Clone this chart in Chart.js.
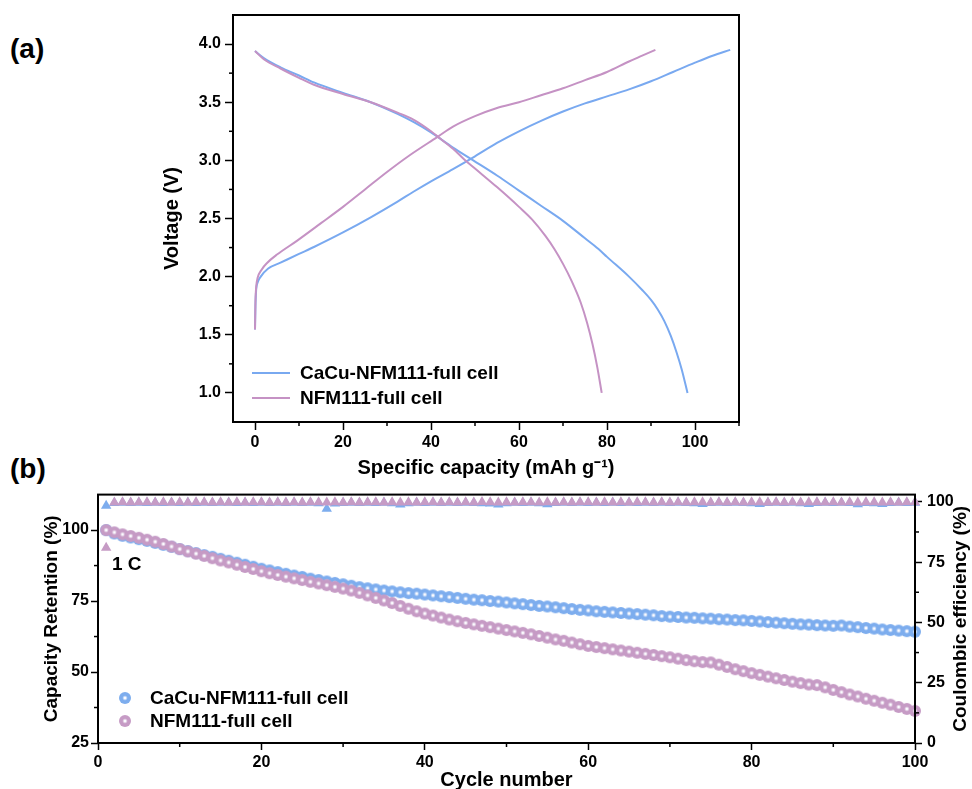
<!DOCTYPE html>
<html>
<head>
<meta charset="utf-8">
<script src="https://cdn.jsdelivr.net/npm/chart.js@4.4.0/dist/chart.umd.min.js"></script>
<style>
    body { margin: 0; background: #fff; width: 972px; height: 789px; position: relative; overflow: hidden; font-family: "Liberation Sans", Arial, sans-serif; }
    canvas { position: absolute; left: 0; }
    #chart-a { top: 0; }
    #chart-b { top: 480px; }
    .panel-tag { position: absolute; left: 10px; font-weight: bold; font-size: 28px; line-height: 28px; }
</style>
</head>
<body>
<div class="panel-tag" style="top:35px">(a)</div>
<div class="panel-tag" style="top:455px">(b)</div>
<canvas id="chart-a" width="972" height="480" style="width:972px;height:480px"></canvas>
<canvas id="chart-b" width="972" height="309" style="width:972px;height:309px"></canvas>

<script>
// ===================================
// DATA - panel (a), charge / discharge curves
// ===================================
const seriesNames = ['CaCu-NFM111-full cell', 'NFM111-full cell'];

const cacuChargeCap = [0, 0.1, 0.25, 0.6, 1.3, 3, 5.8, 10, 13.4, 20, 26.3, 32.4, 36, 40, 45, 50, 55, 60, 65, 70, 75, 80, 85, 90, 95, 100, 104, 108];
const cacuChargeV   = [1.545, 1.75, 1.88, 1.95, 2.0, 2.07, 2.12, 2.195, 2.255, 2.38, 2.51, 2.645, 2.73, 2.82, 2.925, 3.035, 3.15, 3.25, 3.34, 3.42, 3.49, 3.55, 3.61, 3.68, 3.76, 3.84, 3.90, 3.95];

const cacuDischargeCap = [0, 2, 5.8, 10, 13.4, 20, 26.3, 32.4, 36, 40, 45, 49.6, 55, 60, 65, 70, 75, 78, 80, 85, 88, 90, 91.5, 93, 94.5, 95.8, 97, 98.3];
const cacuDischargeV   = [3.94, 3.88, 3.80, 3.73, 3.67, 3.58, 3.50, 3.40, 3.33, 3.24, 3.11, 3.0, 2.87, 2.74, 2.61, 2.48, 2.33, 2.24, 2.17, 2.00, 1.885, 1.80, 1.72, 1.62, 1.49, 1.35, 1.20, 1.0];

const nfmChargeCap = [0, 0.1, 0.3, 0.6, 1.5, 2.8, 5, 9.6, 15, 20, 25, 30, 35, 41.4, 45, 50, 55, 60, 65, 70, 75, 80, 85, 88, 91];
const nfmChargeV   = [1.545, 1.78, 1.92, 1.99, 2.06, 2.12, 2.19, 2.31, 2.46, 2.60, 2.75, 2.90, 3.04, 3.20, 3.29, 3.38, 3.45, 3.50, 3.56, 3.62, 3.69, 3.76, 3.85, 3.90, 3.95];

const nfmDischargeCap = [0, 2, 5.8, 10, 13.4, 20, 26.3, 32.4, 36, 40, 42, 45, 47.5, 50, 55, 60, 63, 66, 68, 70, 72, 74, 75.5, 76.7, 77.8, 78.8];
const nfmDischargeV   = [3.94, 3.87, 3.79, 3.71, 3.65, 3.57, 3.50, 3.41, 3.35, 3.25, 3.19, 3.10, 3.01, 2.93, 2.77, 2.60, 2.49, 2.35, 2.24, 2.11, 1.96, 1.78, 1.60, 1.42, 1.22, 1.0];

const capacityTicks = [0, 20, 40, 60, 80, 100];
const capacityMinor = [10, 30, 50, 70, 90, 110];
const voltageTicks = [1.0, 1.5, 2.0, 2.5, 3.0, 3.5, 4.0];
const voltageMinor = [1.25, 1.75, 2.25, 2.75, 3.25, 3.75];

// ===================================
// DATA - panel (b), cycling
// ===================================
const cycles = [1, 2, 3, 4, 5, 6, 7, 8, 9, 10, 11, 12, 13, 14, 15, 16, 17, 18, 19, 20,
    21, 22, 23, 24, 25, 26, 27, 28, 29, 30, 31, 32, 33, 34, 35, 36, 37, 38, 39, 40,
    41, 42, 43, 44, 45, 46, 47, 48, 49, 50, 51, 52, 53, 54, 55, 56, 57, 58, 59, 60,
    61, 62, 63, 64, 65, 66, 67, 68, 69, 70, 71, 72, 73, 74, 75, 76, 77, 78, 79, 80,
    81, 82, 83, 84, 85, 86, 87, 88, 89, 90, 91, 92, 93, 94, 95, 96, 97, 98, 99, 100];

const cacuRetention = [100.0, 98.8, 98.0, 97.4, 96.8, 96.2, 95.5, 94.8, 94.1, 93.3,
    92.6, 91.9, 91.2, 90.6, 89.9, 89.2, 88.5, 87.8, 87.1, 86.4,
    85.8, 85.2, 84.6, 84.0, 83.5, 82.9, 82.4, 81.9, 81.4, 80.9,
    80.4, 79.9, 79.5, 79.1, 78.7, 78.4, 78.1, 77.8, 77.6, 77.3,
    77.0, 76.7, 76.4, 76.1, 75.8, 75.5, 75.3, 75.0, 74.8, 74.5,
    74.2, 73.9, 73.6, 73.3, 73.1, 72.8, 72.5, 72.2, 71.9, 71.7,
    71.4, 71.2, 71.0, 70.8, 70.6, 70.4, 70.2, 70.0, 69.7, 69.5,
    69.4, 69.2, 69.1, 68.9, 68.8, 68.6, 68.5, 68.3, 68.2, 68.0,
    67.8, 67.6, 67.4, 67.2, 67.0, 66.8, 66.7, 66.5, 66.4, 66.3,
    66.4, 66.0, 65.8, 65.5, 65.3, 65.0, 64.8, 64.6, 64.4, 64.2];

const nfmRetention = [100.0, 99.2, 98.5, 97.9, 97.3, 96.6, 95.9, 95.1, 94.2, 93.3,
    92.5, 91.7, 90.9, 90.1, 89.3, 88.6, 87.8, 87.0, 86.3, 85.5,
    84.8, 84.2, 83.6, 83.0, 82.4, 81.8, 81.2, 80.6, 80.0, 79.4,
    78.7, 77.9, 77.0, 76.1, 75.2, 74.3, 73.3, 72.3, 71.4, 70.6,
    69.9, 69.2, 68.5, 67.9, 67.3, 66.8, 66.3, 65.8, 65.3, 64.8,
    64.3, 63.8, 63.3, 62.7, 62.1, 61.5, 61.0, 60.4, 59.8, 59.2,
    58.8, 58.4, 58.0, 57.6, 57.2, 56.8, 56.4, 56.0, 55.6, 55.2,
    54.7, 54.2, 53.8, 53.5, 53.4, 52.6, 51.8, 51.0, 50.3, 49.6,
    49.0, 48.4, 47.8, 47.2, 46.6, 46.1, 45.6, 45.4, 44.6, 43.7,
    42.9, 42.1, 41.4, 40.6, 39.9, 39.2, 38.5, 37.7, 37.0, 36.3];

const cacuEfficiency = [98.4, 99.5, 99.6, 99.5, 99.6, 99.5, 99.6, 99.5, 99.6, 99.5,
    99.6, 99.5, 99.6, 99.5, 99.6, 99.6, 99.5, 99.6, 99.5, 99.6,
    99.5, 99.6, 99.5, 99.6, 99.5, 99.6, 99.4, 97.1, 99.3, 99.5,
    99.6, 99.5, 99.6, 99.5, 99.6, 99.4, 98.9, 99.4, 99.6, 99.5,
    99.6, 99.5, 99.6, 99.5, 99.6, 99.5, 99.4, 99.3, 98.9, 99.4,
    99.6, 99.5, 99.6, 99.4, 99.0, 99.5, 99.6, 99.5, 99.6, 99.5,
    99.6, 99.5, 99.6, 99.5, 99.6, 99.5, 99.6, 99.5, 99.6, 99.5,
    99.6, 99.5, 99.4, 99.1, 99.5, 99.6, 99.5, 99.6, 99.5, 99.4,
    99.1, 99.5, 99.6, 99.5, 99.6, 99.4, 99.1, 99.5, 99.6, 99.5,
    99.6, 99.5, 99.0, 99.5, 99.4, 99.1, 99.5, 99.6, 99.5, 99.6];

const nfmEfficiency = [81.0, 99.7, 99.8, 99.7, 99.8, 99.8, 99.7, 99.8, 99.7, 99.8,
    99.7, 99.8, 99.8, 99.7, 99.8, 99.7, 99.8, 99.7, 99.8, 99.8,
    99.7, 99.8, 99.7, 99.8, 99.7, 99.8, 99.8, 99.7, 99.8, 99.7,
    99.8, 99.7, 99.8, 99.8, 99.7, 99.8, 99.7, 99.8, 99.7, 99.8,
    99.8, 99.7, 99.8, 99.7, 99.8, 99.7, 99.9, 99.8, 99.7, 99.8,
    99.7, 99.8, 99.8, 99.7, 99.8, 99.7, 99.8, 99.7, 99.8, 99.8,
    99.7, 99.8, 99.7, 99.8, 99.7, 99.8, 99.8, 99.7, 99.8, 99.7,
    99.8, 99.7, 99.8, 99.8, 99.7, 99.8, 99.7, 99.8, 99.7, 99.8,
    99.8, 99.7, 99.8, 99.7, 99.8, 99.7, 99.8, 99.8, 99.7, 99.8,
    99.7, 99.8, 99.7, 99.8, 99.8, 99.7, 99.8, 99.7, 99.8, 99.8];

const cycleTicks = [0, 20, 40, 60, 80, 100];
const cycleMinor = [10, 30, 50, 70, 90];
const retentionTicks = [25, 50, 75, 100];
const retentionMinor = [37.5, 62.5, 87.5];
const efficiencyTicks = [0, 25, 50, 75, 100];
const efficiencyMinor = [12.5, 37.5, 62.5, 87.5];

const rateLabel = '1 C';
const rateLabelAt = [1.7, 87.7];   // cycle, retention
const efficiencyTitle = 'Coulombic efficiency (%)';

// ===================================
// STYLE
// ===================================
const FONT = '"Liberation Sans", Arial, sans-serif';
const BLUE_LINE = '#79a9f0';
const PINK_LINE = '#c592c4';
const BLUE_MARK = '#7dadee';
const PINK_MARK = '#c69bc5';

Chart.defaults.font.family = FONT;
Chart.defaults.font.weight = 'bold';
Chart.defaults.color = '#000';

const zip = (xs, ys) => xs.map((x, i) => ({ x: x, y: ys[i] }));

/**
 * Small shaded ball used as point style (Origin "sphere" symbol)
 */
function makeBall(color, r) {
    const c = document.createElement('canvas');
    c.width = c.height = r * 2 + 2;
    const g = c.getContext('2d');
    const m = r + 1;
    const grad = g.createRadialGradient(m, m, 0, m, m, r);
    grad.addColorStop(0, '#ffffff');
    grad.addColorStop(0.12, '#fbfbff');
    grad.addColorStop(0.45, color);
    grad.addColorStop(1, color);
    g.fillStyle = grad;
    g.beginPath();
    g.arc(m, m, r, 0, Math.PI * 2);
    g.fill();
    return c;
}

const blueBall = makeBall(BLUE_MARK, 6);
const pinkBall = makeBall(PINK_MARK, 6);

// ===================================
// PLUGINS
// ===================================

// frame round the plot + short minor ticks
function framePlugin(minor) {
    return {
        id: 'frame',
        afterDraw(chart) {
            const { ctx, chartArea: a } = chart;
            ctx.save();
            ctx.strokeStyle = '#000';
            ctx.lineWidth = 1.5;
            Object.keys(minor).forEach(id => {
                const s = chart.scales[id];
                minor[id].forEach(v => {
                    const p = s.getPixelForValue(v);
                    ctx.beginPath();
                    if (s.isHorizontal()) {
                        ctx.moveTo(p, a.bottom); ctx.lineTo(p, a.bottom + 4);
                    } else if (s.position === 'left') {
                        ctx.moveTo(a.left, p); ctx.lineTo(a.left - 4, p);
                    } else {
                        ctx.moveTo(a.right, p); ctx.lineTo(a.right + 4, p);
                    }
                    ctx.stroke();
                });
            });
            ctx.lineWidth = 2;
            ctx.strokeRect(a.left, a.top, a.right - a.left, a.bottom - a.top);
            ctx.restore();
        }
    };
}

// legend drawn inside the plot, offsets relative to chart area bottom-left
function legendPlugin(entries) {
    return {
        id: 'insideLegend',
        afterDraw(chart) {
            const { ctx, chartArea: a } = chart;
            ctx.save();
            ctx.font = 'bold 19px ' + FONT;
            ctx.textBaseline = 'middle';
            ctx.fillStyle = '#000';
            entries.forEach(e => {
                const ds = chart.data.datasets[e.dataset];
                const x = a.left + e.dx;
                const y = a.bottom + e.dy;
                if (ds.showLine) {
                    ctx.strokeStyle = ds.borderColor;
                    ctx.lineWidth = 2;
                    ctx.beginPath();
                    ctx.moveTo(x, y);
                    ctx.lineTo(x + 38, y);
                    ctx.stroke();
                } else {
                    const img = ds.pointStyle;
                    ctx.drawImage(img, x - img.width / 2, y - img.height / 2);
                }
                ctx.fillText(ds.label, a.left + e.tx, y + 1);
            });
            ctx.restore();
        }
    };
}

// rate note and right-hand title (reads bottom to top like the left one)
const cycleNotes = {
    id: 'cycleNotes',
    afterDraw(chart) {
        const { ctx, chartArea: a } = chart;
        const xs = chart.scales.x, ys = chart.scales.y, y2 = chart.scales.y2;
        ctx.save();
        ctx.fillStyle = '#000';
        ctx.font = 'bold 19px ' + FONT;
        ctx.textBaseline = 'middle';
        ctx.fillText(rateLabel, xs.getPixelForValue(rateLabelAt[0]), ys.getPixelForValue(rateLabelAt[1]));
        ctx.translate(y2.right - 11, (a.top + a.bottom) / 2);
        ctx.rotate(-Math.PI / 2);
        ctx.textAlign = 'center';
        ctx.fillText(efficiencyTitle, 0, 0);
        ctx.restore();
    }
};

function axisBase(ticks, tickLen, pad) {
    return {
        type: 'linear',
        border: { display: false },
        grid: { display: true, drawOnChartArea: false, drawTicks: true, tickLength: tickLen, tickWidth: 1.5, tickColor: '#000' },
        ticks: { font: { size: 16, weight: 'bold' }, color: '#000', padding: pad, autoSkip: false, maxRotation: 0 },
        afterBuildTicks: s => { s.ticks = ticks.map(v => ({ value: v })); }
    };
}

// ===================================
// PANEL (a)
// ===================================
const xA = axisBase(capacityTicks, 8, 3);
xA.min = -5; xA.max = 110;
xA.afterFit = s => { s.height = 58; };
xA.title = { display: true, text: 'Specific capacity (mAh g⁻¹)', font: { size: 20, weight: 'bold' }, color: '#000', padding: { top: 0, bottom: 0 } };

const yA = axisBase(voltageTicks, 8, 4);
yA.min = 0.75; yA.max = 4.25;
yA.ticks.callback = v => v.toFixed(1);
yA.afterFit = s => { s.width = 77; };
yA.title = { display: true, text: 'Voltage (V)', font: { size: 20, weight: 'bold' }, color: '#000', padding: { top: 4, bottom: 0 } };

const curve = (label, xs, ys, color, order) => ({
    label: label,
    data: zip(xs, ys),
    showLine: true,
    borderColor: color,
    backgroundColor: color,
    borderWidth: 2,
    pointRadius: 0,
    cubicInterpolationMode: 'monotone',
    order: order
});

new Chart(document.getElementById('chart-a'), {
    type: 'scatter',
    data: {
        datasets: [
            curve(seriesNames[0], cacuChargeCap, cacuChargeV, BLUE_LINE, 3),
            curve(seriesNames[1], nfmChargeCap, nfmChargeV, PINK_LINE, 1),
            curve(seriesNames[0], cacuDischargeCap, cacuDischargeV, BLUE_LINE, 4),
            curve(seriesNames[1], nfmDischargeCap, nfmDischargeV, PINK_LINE, 2)
        ]
    },
    options: {
        responsive: false,
        animation: false,
        events: [],
        layout: { padding: { left: 156, right: 233, top: 15, bottom: 0 } },
        plugins: { legend: { display: false }, tooltip: { enabled: false } },
        scales: { x: xA, y: yA }
    },
    plugins: [
        framePlugin({ x: capacityMinor, y: voltageMinor }),
        legendPlugin([
            { dataset: 0, dx: 19, dy: -49, tx: 67 },
            { dataset: 1, dx: 19, dy: -24, tx: 67 }
        ])
    ]
});

// ===================================
// PANEL (b)
// ===================================
const xB = axisBase(cycleTicks, 7, 3);
xB.min = 0; xB.max = 100;
xB.afterFit = s => { s.height = 46; };
xB.title = { display: true, text: 'Cycle number', font: { size: 20, weight: 'bold' }, color: '#000', padding: { top: 0, bottom: -3 } };

const yB = axisBase(retentionTicks, 7, 2);
yB.min = 25; yB.max = 112.5;
yB.afterFit = s => { s.width = 62; };
yB.title = { display: true, text: 'Capacity Retention (%)', font: { size: 19, weight: 'bold' }, color: '#000', padding: { top: 4, bottom: 0 } };

const y2B = axisBase(efficiencyTicks, 7, 5);
y2B.position = 'right';
y2B.min = 0; y2B.max = 103;
y2B.afterFit = s => { s.width = 57; };

const balls = (label, ys, img, order) => ({
    label: label,
    data: zip(cycles, ys),
    yAxisID: 'y',
    pointStyle: img,
    pointRadius: 6,
    showLine: false,
    clip: false,
    order: order
});

const triangles = (label, ys, color, order) => ({
    label: label,
    data: zip(cycles, ys),
    yAxisID: 'y2',
    pointStyle: 'triangle',
    pointRadius: 6,
    pointBackgroundColor: color,
    pointBorderWidth: 0,
    showLine: false,
    clip: false,
    order: order
});

new Chart(document.getElementById('chart-b'), {
    type: 'scatter',
    data: {
        datasets: [
            balls(seriesNames[0], cacuRetention, blueBall, 3),
            balls(seriesNames[1], nfmRetention, pinkBall, 1),
            triangles(seriesNames[0], cacuEfficiency, BLUE_MARK, 4),
            triangles(seriesNames[1], nfmEfficiency, PINK_MARK, 2)
        ]
    },
    options: {
        responsive: false,
        animation: false,
        events: [],
        layout: { padding: { left: 36, right: 0, top: 6, bottom: 0 } },
        plugins: { legend: { display: false }, tooltip: { enabled: false } },
        scales: { x: xB, y: yB, y2: y2B }
    },
    plugins: [
        framePlugin({ x: cycleMinor, y: retentionMinor, y2: efficiencyMinor }),
        legendPlugin([
            { dataset: 0, dx: 27, dy: -45, tx: 52 },
            { dataset: 1, dx: 27, dy: -22, tx: 52 }
        ]),
        cycleNotes
    ]
});
</script>
</body>
</html>
